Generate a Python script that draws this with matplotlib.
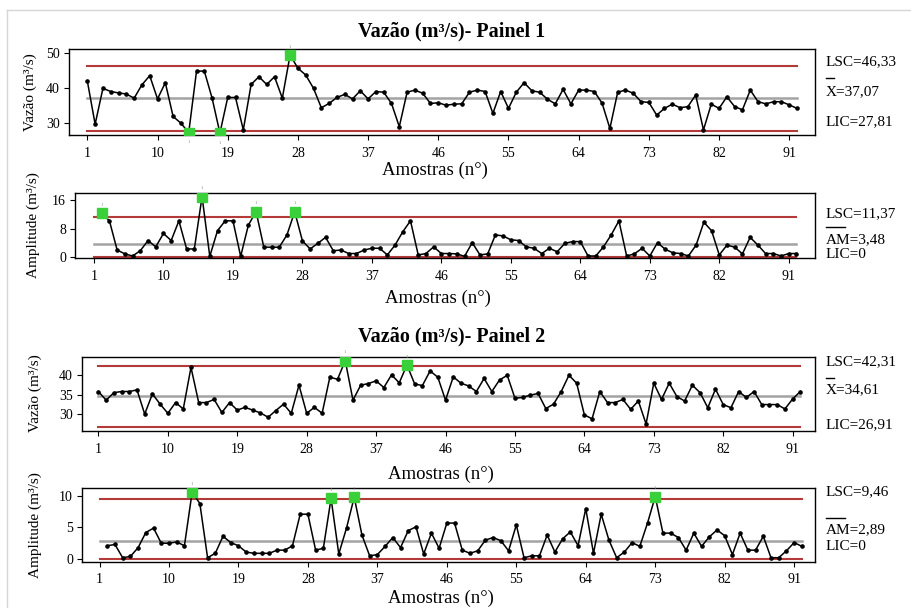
import matplotlib
matplotlib.use("Agg")
import matplotlib.pyplot as plt
import numpy as np
from matplotlib.lines import Line2D

plt.rcParams['font.family'] = ['Liberation Serif', 'DejaVu Serif']

W, H = 911, 608

# ---------------- data ----------------
amostras = np.arange(1, 93)
xticks = [1, 10, 19, 28, 37, 46, 55, 64, 73, 82, 91]

vazao_p1 = [42.0, 29.7, 39.9, 39.0, 38.6, 38.3, 37.1, 40.9, 43.5, 36.9,
            41.5, 31.9, 30.0, 27.3, 44.8, 44.8, 37.1, 27.2, 37.3, 37.3,
            28.1, 41.0, 43.2, 41.0, 43.2, 37.1, 49.4, 45.6, 43.7, 39.9,
            34.4, 35.6, 37.3, 38.2, 36.9, 39.2, 36.9, 39.0, 38.8, 35.6,
            29.0, 38.8, 39.4, 38.5, 35.6, 35.8, 35.1, 35.4, 35.5, 38.8,
            39.4, 39.0, 32.8, 39.0, 34.2, 38.8, 41.5, 39.2, 38.8, 36.8,
            35.5, 39.6, 35.5, 39.4, 39.4, 39.0, 35.7, 28.5, 38.8, 39.4,
            38.5, 36.1, 35.9, 32.3, 34.2, 35.4, 34.4, 34.7, 38.0, 28.1,
            35.4, 34.2, 37.5, 34.7, 33.8, 39.4, 36.1, 35.5, 36.1, 36.1,
            35.2, 34.2]

amp_p1 = [12.3, 10.2, 1.9, 0.8, 0.2, 1.7, 4.6, 2.8, 6.6, 4.6,
          10.2, 2.2, 2.2, 17.1, 0.1, 7.4, 10.2, 10.2, 0.1, 9.0,
          12.8, 2.7, 2.7, 2.7, 6.2, 12.8, 4.5, 2.2, 3.8, 5.5,
          1.7, 1.9, 0.9, 0.9, 1.9, 2.4, 2.4, 0.5, 3.3, 7.1,
          10.2, 0.5, 0.9, 2.8, 0.9, 0.9, 0.8, 0.1, 4.0, 0.5,
          0.8, 6.2, 5.9, 4.8, 4.6, 2.8, 2.4, 0.9, 2.4, 1.4,
          3.8, 4.3, 4.3, 0.2, 0.2, 2.8, 6.2, 10.2, 0.2, 0.8,
          2.4, 0.2, 4.0, 2.1, 1.1, 0.9, 0.2, 3.3, 9.8, 7.4,
          0.5, 3.3, 2.7, 0.8, 5.5, 3.3, 0.9, 0.9, 0.2, 0.9,
          0.9]

vazao_p2 = [35.8, 33.6, 35.5, 35.8, 35.8, 36.2, 30.1, 35.2, 32.6, 30.3,
            33.0, 31.4, 41.9, 33.0, 33.0, 33.8, 30.5, 33.0, 31.1, 31.8,
            31.1, 30.4, 29.3, 31.0, 32.6, 30.3, 37.4, 30.3, 31.8, 30.3,
            39.4, 38.9, 43.6, 33.6, 37.4, 37.8, 38.5, 36.8, 40.0, 38.0,
            42.5, 37.7, 37.3, 41.0, 39.4, 33.6, 39.5, 37.9, 37.2, 35.8,
            39.1, 35.8, 38.7, 39.9, 34.1, 34.3, 34.9, 35.3, 31.5, 32.6,
            35.8, 39.9, 37.9, 29.9, 28.9, 35.8, 33.0, 33.0, 33.8, 31.3,
            33.4, 27.6, 37.9, 33.8, 37.9, 34.5, 33.4, 37.4, 35.5, 31.7,
            36.4, 32.5, 31.7, 35.8, 34.3, 35.8, 32.5, 32.5, 32.5, 31.4,
            33.9, 35.8]

amp_p2 = [2.1, 2.3, 0.2, 0.4, 1.8, 4.2, 4.9, 2.5, 2.5, 2.7,
          2.1, 10.6, 8.8, 0.2, 0.9, 3.6, 2.6, 2.1, 1.1, 0.9,
          0.9, 0.9, 1.4, 1.4, 2.1, 7.1, 7.1, 1.4, 1.7, 9.6,
          0.8, 4.9, 9.8, 3.8, 0.5, 0.7, 2.0, 3.4, 1.8, 4.5,
          5.1, 0.8, 4.1, 1.7, 5.7, 5.7, 1.4, 0.9, 1.3, 3.0,
          3.4, 2.9, 1.3, 5.4, 0.2, 0.5, 0.5, 3.8, 1.1, 3.2,
          4.3, 2.1, 8.0, 0.9, 7.1, 3.0, 0.2, 1.1, 2.6, 2.0,
          5.7, 9.9, 4.1, 4.1, 3.4, 1.4, 4.1, 2.0, 3.5, 4.6,
          3.7, 0.7, 4.1, 1.4, 1.4, 3.6, 0.2, 0.2, 1.3, 2.6,
          2.0]

# control limits: (LSC, centre, LIC)
lim_vazao_p1 = (46.33, 37.07, 27.81)
lim_amp_p1 = (11.37, 3.48, 0.0)
lim_vazao_p2 = (42.31, 34.61, 26.91)
lim_amp_p2 = (9.46, 2.89, 0.0)

lbl_vazao_p1 = ["LSC=46,33", "X=37,07", "LIC=27,81"]
lbl_amp_p1 = ["LSC=11,37", "AM=3,48", "LIC=0"]
lbl_vazao_p2 = ["LSC=42,31", "X=34,61", "LIC=26,91"]
lbl_amp_p2 = ["LSC=9,46", "AM=2,89", "LIC=0"]

titulos = ["Vazão (m³/s)- Painel 1", "Vazão (m³/s)- Painel 2"]

# ---------------- layout ----------------
fig = plt.figure(figsize=(W / 100, H / 100), dpi=100)


def fx(x):
    return x / W


def fy(y):
    return 1 - y / H


def rect(l, t, r, b):
    return [fx(l), fy(b), (r - l) / W, (b - t) / H]


panels = [
    dict(rect=rect(69, 48.5, 815, 135), xlim=(-1.35, 94.3), ylim=(26.64, 51.22),
         yticks=[30, 40, 50], x=amostras, y=vazao_p1, lim=lim_vazao_p1,
         ylabel="Vazão (m³/s)", ylx=-0.052, xly=-0.405,
         texts=lbl_vazao_p1, ty=(62, 92, 122), bar=(78, 8)),
    dict(rect=rect(75, 193, 815, 258), xlim=(-1.46, 94.4), ylim=(-0.37, 18.11),
         yticks=[0, 8, 16], x=amostras[1:], y=amp_p1, lim=lim_amp_p1,
         ylabel="Amplitude (m³/s)", ylx=-0.057, xly=-0.615,
         texts=lbl_amp_p1, ty=(214, 240, 255), bar=(227, 19)),
    dict(rect=rect(82, 356.5, 815, 430.7), xlim=(-1.13, 93.9), ylim=(25.90, 44.64),
         yticks=[30, 35, 40], x=amostras, y=vazao_p2, lim=lim_vazao_p2,
         ylabel="Vazão (m³/s)", ylx=-0.064, xly=-0.584,
         texts=lbl_vazao_p2, ty=(362, 390, 425), bar=(378, 8)),
    dict(rect=rect(82, 488, 815, 561.5), xlim=(-1.27, 93.7), ylim=(-0.40, 11.26),
         yticks=[0, 5, 10], x=amostras[1:], y=amp_p2, lim=lim_amp_p2,
         ylabel="Amplitude (m³/s)", ylx=-0.064, xly=-0.497,
         texts=lbl_amp_p2, ty=(492, 530, 546), bar=(518, 19)),
]

RED = "#b43a3a"
GREY = "#a3a3a3"
GREEN = "#39d03a"

for p in panels:
    ax = fig.add_axes(p["rect"])
    x = np.asarray(p["x"])
    y = np.asarray(p["y"])
    lsc, cen, lic = p["lim"]
    x0, x1 = amostras[0], amostras[-1]

    ax.plot([x0, x1], [lsc, lsc], color=RED, lw=1.5, zorder=1)
    ax.plot([x0, x1], [lic, lic], color=RED, lw=1.5, zorder=1)
    ax.plot([x0, x1], [cen, cen], color=GREY, lw=1.8, zorder=1)

    ax.plot(x, y, color="black", lw=1.1, marker="o", ms=2.3, zorder=3)

    fora = (y > lsc) | (y < lic)
    ax.plot(x[fora], y[fora], ls="none", marker="s", ms=6.5,
            color=GREEN, mec=GREEN, zorder=4)
    for xi, yi in zip(x[fora], y[fora]):
        dy = 6 if yi > lsc else -7
        ax.annotate("1", (xi, yi), xytext=(0, dy), textcoords="offset points",
                    ha="center", va="center", fontsize=3.5, color="#8a8a8a")

    ax.set_xlim(*p["xlim"])
    ax.set_ylim(*p["ylim"])
    ax.set_xticks(xticks)
    ax.set_yticks(p["yticks"])
    ax.tick_params(direction="out", length=3.5, width=0.8, labelsize=10,
                   top=False, right=False, pad=3)
    ax.tick_params(axis="x", pad=5)
    for s in ax.spines.values():
        s.set_linewidth(1.0)

    ax.set_xlabel("Amostras (n°)", fontsize=13.5)
    ax.xaxis.set_label_coords(0.49, p["xly"])
    ax.xaxis.label.set_va("center")
    ax.set_ylabel(p["ylabel"], fontsize=11)
    ax.yaxis.set_label_coords(p["ylx"], 0.5)
    ax.yaxis.label.set_va("center")

    for txt, ty in zip(p["texts"], p["ty"]):
        fig.text(fx(826), fy(ty), txt, ha="left", va="center", fontsize=11)
    by, bw = p["bar"]
    fig.add_artist(Line2D([fx(826), fx(826 + bw)], [fy(by), fy(by)],
                          color="black", lw=1.0))

fig.text(fx(452), fy(31), titulos[0], ha="center", va="center",
         fontsize=14.5, fontweight="bold")
fig.text(fx(452), fy(336), titulos[1], ha="center", va="center",
         fontsize=14.5, fontweight="bold")

# light outer frame
fig.add_artist(Line2D([fx(7), fx(7)], [fy(10), 0], color="#d6d6d6", lw=1.0))
fig.add_artist(Line2D([fx(7), 1], [fy(10), fy(10)], color="#d6d6d6", lw=1.0))

fig.savefig("out.png", dpi=100)
